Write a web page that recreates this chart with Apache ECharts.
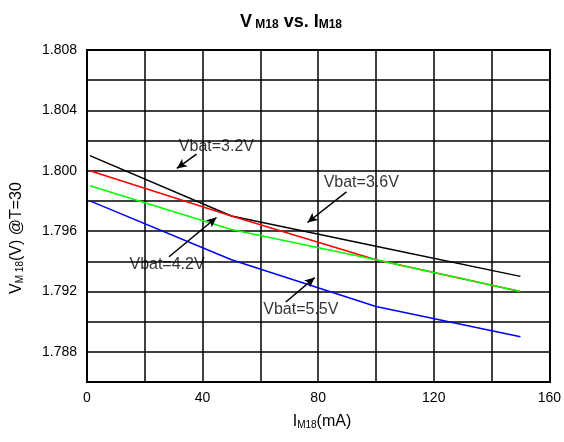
<!DOCTYPE html>
<html><head><meta charset="utf-8">
<script src="https://cdn.jsdelivr.net/npm/echarts@6/dist/echarts.min.js"></script>
<style>html,body{margin:0;padding:0;background:#fff}#c{width:564px;height:442px}</style>
</head><body><div id="c"></div>
<script>
const xVals = [1, 50, 100, 150];
const v32 = [1.801, 1.797, 1.795, 1.793];
const v36 = [1.800, 1.797, 1.7941, 1.792];
const v42 = [1.799, 1.7961, 1.7941, 1.792];
const v55 = [1.798, 1.7941, 1.7910, 1.7890];
const annoText = ['Vbat=3.2V', 'Vbat=3.6V', 'Vbat=4.2V', 'Vbat=5.5V'];
const annoTextPos = [[44.8, 1.8016], [94.9, 1.7992], [27.7, 1.7938], [74.0, 1.7908]];
const arrowFrom = [[37.9, 1.8011], [89.8, 1.7986], [28.4, 1.7943], [68.8, 1.7913]];
const arrowTo = [[31.1, 1.80015], [76.3, 1.79657], [44.8, 1.7969], [78.8, 1.79292]];

const FONT = '"Liberation Sans", Arial, sans-serif';
function pair(xs, ys) { return xs.map((x, i) => [x, ys[i]]); }
function line(data, color) {
  return { type: 'line', data: pair(xVals, data), showSymbol: false, symbol: 'none',
    lineStyle: { color: color, width: 1.5 }, itemStyle: { color: color }, z: 3 };
}
const chart = echarts.init(document.getElementById('c'));
chart.setOption({
  animation: false,
  backgroundColor: '#fff',
  title: {
    text: '{v|V}{s| M18} {v|vs. I}{s|M18}',
    left: 286, top: 4, textAlign: 'center',
    textStyle: { rich: {
      v: { fontFamily: FONT, fontSize: 18, fontWeight: 'bold', color: '#000', lineHeight: 22, verticalAlign: 'bottom' },
      s: { fontFamily: FONT, fontSize: 12, fontWeight: 'bold', color: '#000', lineHeight: 16, verticalAlign: 'bottom', padding: [7, 0, 0, 0] }
    } }
  },
  grid: { left: 87, right: 14, top: 50, bottom: 60 },
  xAxis: {
    type: 'value', min: 0, max: 160, interval: 20,
    axisLine: { show: true, onZero: false, lineStyle: { color: '#000', width: 2 } },
    axisTick: { show: false },
    splitLine: { show: true, lineStyle: { color: '#000', width: 1.5 } },
    axisLabel: { margin: 9, fontFamily: FONT, fontSize: 14, color: '#000',
      formatter: v => (Math.round(v) % 40 === 0 ? String(Math.round(v)) : '') }
  },
  yAxis: {
    type: 'value', min: 1.786, max: 1.808, interval: 0.002,
    axisLine: { show: true, lineStyle: { color: '#000', width: 2 } },
    axisTick: { show: false },
    splitLine: { show: true, lineStyle: { color: '#000', width: 1.5 } },
    axisLabel: { margin: 10, fontFamily: FONT, fontSize: 14, color: '#000',
      formatter: v => { const m = Math.round(v * 1000); return ((m - 1788) % 4 === 0) ? (m / 1000).toFixed(3) : ''; } }
  },
  graphic: [
    { type: 'rect', shape: { x: 87, y: 50, width: 463, height: 332 }, style: { fill: 'none', stroke: '#000', lineWidth: 2 }, z: 10, silent: true },
    { type: 'text', x: 17, y: 238, rotation: Math.PI / 2,
      style: { text: '{v|V}{s|M 18}{v|(V) @T=30}', textAlign: 'center', textVerticalAlign: 'middle',
        rich: { v: { fontFamily: FONT, fontSize: 16, fill: '#000', verticalAlign: 'bottom' },
                s: { fontFamily: FONT, fontSize: 10, fill: '#000', verticalAlign: 'bottom', padding: [5, 0, 0, 0] } } } },
    { type: 'text', x: 322, y: 422,
      style: { text: '{v|I}{s|M18}{v|(mA)}', textAlign: 'center', textVerticalAlign: 'middle',
        rich: { v: { fontFamily: FONT, fontSize: 16, fill: '#000', verticalAlign: 'bottom' },
                s: { fontFamily: FONT, fontSize: 10, fill: '#000', verticalAlign: 'bottom', padding: [5, 0, 0, 0] } } } }
  ],
  series: [
    line(v32, '#000000'),
    line(v36, '#ff0000'),
    line(v42, '#00ff00'),
    line(v55, '#0000ff'),
    {
      type: 'scatter', symbolSize: 0, z: 6, silent: true,
      data: annoTextPos.map((p, i) => ({ value: p, name: annoText[i] })),
      label: { show: true, position: 'inside', formatter: p => p.name, fontFamily: FONT, fontSize: 16, color: '#000' },
      markLine: {
        silent: true, symbol: ['none', 'arrow'], symbolSize: [7, 10],
        lineStyle: { color: '#000', width: 1.5, type: 'solid' }, label: { show: false },
        data: arrowFrom.map((f, i) => [{ coord: f }, { coord: arrowTo[i] }])
      }
    }
  ]
});
</script></body></html>
